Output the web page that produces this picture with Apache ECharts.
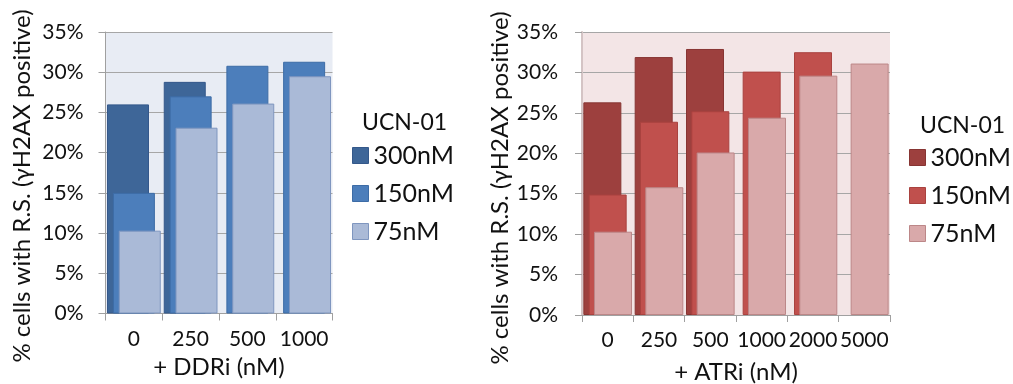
<!DOCTYPE html>
<html>
<head>
<meta charset="utf-8">
<title>UCN-01 combination: replication stress</title>
<script src="https://cdn.jsdelivr.net/npm/echarts@6/dist/echarts.min.js"></script>
<style>
  html, body { margin: 0; padding: 0; background: #ffffff; }
  #chart { width: 1013px; height: 384px; }
</style>
</head>
<body>
<div id="chart"></div>
<script>
// Percent of cells with replication stress (γH2AX positive)
const ddriDoses = ['0', '250', '500', '1000'];
const ddri300 = [26.0, 28.8, null, null];
const ddri150 = [15.0, 27.0, 30.8, 31.3];
const ddri75  = [10.3, 23.1, 26.1, 29.5];

const atriDoses = ['0', '250', '500', '1000', '2000', '5000'];
const atri300 = [26.3, 31.9, 32.9, null, null, null];
const atri150 = [14.9, 23.9, 25.2, 30.1, 32.5, null];
const atri75  = [10.3, 15.8, 20.1, 24.4, 29.6, 31.1];

const seriesNames = ['300nM', '150nM', '75nM'];
const yTicks = [0, 5, 10, 15, 20, 25, 30, 35];

const FONT = 'Lato, "Open Sans", sans-serif';
const TEXT = '#111111';

const blues = [
  { color: '#3E6698', borderColor: '#34588A' },
  { color: '#4C7EBB', borderColor: '#3D6CA6' },
  { color: '#AABAD7', borderColor: '#7F96BF' }
];
const reds = [
  { color: '#9D403E', borderColor: '#873533' },
  { color: '#C0504D', borderColor: '#A9423F' },
  { color: '#D9A9AA', borderColor: '#BC8788' }
];

function yAxis(gridIndex, lineColor, lineWidth, margin) {
  return {
    type: 'value', gridIndex,
    min: yTicks[0], max: yTicks[yTicks.length - 1], interval: 5,
    axisLine: { show: true, lineStyle: { color: lineColor, width: lineWidth } },
    axisTick: { show: true, length: 7, lineStyle: { color: '#A0A0A0' } },
    splitLine: { show: true, lineStyle: { color: '#A6A6A6', width: 1 } },
    axisLabel: { formatter: '{value}%', fontSize: 21, color: TEXT, fontFamily: FONT, margin }
  };
}

function xAxis(gridIndex, cats, name, nameGap) {
  return {
    type: 'category', gridIndex, data: cats,
    axisLine: { show: true, lineStyle: { color: '#A0A0A0' } },
    axisTick: { show: true, length: 7, alignWithLabel: false, lineStyle: { color: '#A0A0A0' } },
    axisLabel: { fontSize: 21, color: TEXT, fontFamily: FONT, margin: 15, interval: 0 },
    name, nameLocation: 'middle', nameGap,
    nameTextStyle: { fontSize: 24, color: TEXT, fontFamily: FONT }
  };
}

function bars(values, idx, palette, axisIndex, width) {
  return {
    type: 'bar', name: seriesNames[idx], data: values,
    xAxisIndex: axisIndex, yAxisIndex: axisIndex,
    barWidth: width, barGap: '-86%',
    itemStyle: { color: palette[idx].color, borderColor: palette[idx].borderColor, borderWidth: 1 },
    emphasis: { disabled: true }, animation: false
  };
}

function legend(left, top, palette) {
  return {
    orient: 'vertical', left, top, padding: 0,
    icon: 'rect', itemWidth: 16, itemHeight: 16, itemGap: 13,
    selectedMode: false,
    textStyle: { fontSize: 25, color: TEXT, fontFamily: FONT, lineHeight: 25 },
    data: seriesNames.map((n, i) => ({
      name: n,
      itemStyle: { color: palette[i].color, borderColor: palette[i].borderColor, borderWidth: 1 }
    }))
  };
}

const yTitle = '% cells with R.S. (γH2AX positive)';

const option = {
  animation: false,
  backgroundColor: '#ffffff',
  textStyle: { fontFamily: FONT },
  grid: [
    { left: 105.5, top: 32, width: 227, height: 281.5, show: true, backgroundColor: '#E8ECF4', borderWidth: 0,
      containLabel: false, outerBoundsMode: 'none' },
    { left: 582, top: 32, width: 308, height: 283, show: true, backgroundColor: '#F3E5E6', borderWidth: 0,
      containLabel: false, outerBoundsMode: 'none' }
  ],
  xAxis: [ xAxis(0, ddriDoses, '+ DDRi (nM)', 42), xAxis(1, atriDoses, '+ ATRi (nM)', 45) ],
  yAxis: [ yAxis(0, '#A0A0A0', 1, 22), yAxis(1, '#D4C4C5', 2, 24) ],
  title: [
    { text: 'UCN-01', left: 362, top: 111, padding: 0, textStyle: { fontSize: 23, fontWeight: 'normal', color: TEXT, fontFamily: FONT } },
    { text: 'UCN-01', left: 920, top: 114, padding: 0, textStyle: { fontSize: 23, fontWeight: 'normal', color: TEXT, fontFamily: FONT } }
  ],
  legend: [ legend(352, 143, blues), legend(909, 145, reds) ],
  graphic: [
    { type: 'text', x: 22, y: 186, rotation: Math.PI / 2,
      style: { text: yTitle, fontSize: 24, fill: TEXT, fontFamily: FONT, align: 'center', verticalAlign: 'middle' } },
    { type: 'text', x: 500, y: 188, rotation: Math.PI / 2,
      style: { text: yTitle, fontSize: 24, fill: TEXT, fontFamily: FONT, align: 'center', verticalAlign: 'middle' } }
  ],
  series: [
    bars(ddri300, 0, blues, 0, 42), bars(ddri150, 1, blues, 0, 42), bars(ddri75, 2, blues, 0, 42),
    bars(atri300, 0, reds, 1, 38), bars(atri150, 1, reds, 1, 38), bars(atri75, 2, reds, 1, 38)
  ]
};

const chart = echarts.init(document.getElementById('chart'), null, { renderer: 'canvas' });
chart.setOption(option);
</script>
</body>
</html>
